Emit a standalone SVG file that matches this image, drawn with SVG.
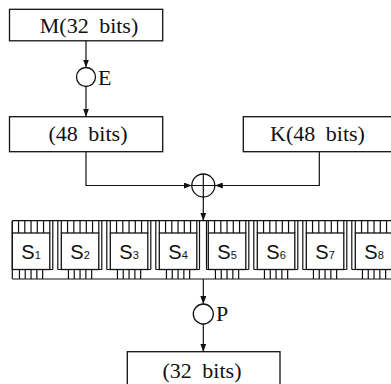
<svg xmlns="http://www.w3.org/2000/svg" width="391" height="384" viewBox="0 0 391 384">
<defs>
<style>
.box{fill:none;stroke:#111;stroke-width:1.3}
.ln{fill:none;stroke:#111;stroke-width:1.2}
.lbl{font-family:"Liberation Serif","Times New Roman",serif;font-size:22px;fill:#111;word-spacing:5px}
.sl{font-family:"Liberation Sans",Arial,sans-serif;font-size:20px;fill:#111}
.sub{font-size:11px}
</style>
<marker id="ah" markerWidth="8" markerHeight="6" refX="8" refY="3" orient="auto" markerUnits="userSpaceOnUse">
<path d="M0,0 L8,3 L0,6 z" fill="#111"/>
</marker>
</defs>
<rect width="391" height="384" fill="#fff"/>

<g id="node-M">
<rect class="box" x="9.5" y="9.3" width="153.2" height="31.5"/>
<text class="lbl" x="89" y="32.5" text-anchor="middle">M(32 bits)</text>
</g>

<g id="node-E">
<circle class="box" cx="86" cy="77" r="9.5"/>
<text class="lbl" x="98" y="85">E</text>
</g>

<g id="node-48">
<rect class="box" x="9.5" y="116.7" width="153.2" height="35"/>
<text class="lbl" x="88" y="141" text-anchor="middle">(48 bits)</text>
</g>

<g id="node-K">
<rect class="box" x="243.3" y="116.7" width="152" height="35"/>
<text class="lbl" x="317.5" y="141" text-anchor="middle">K(48 bits)</text>
</g>

<g id="node-xor">
<circle class="box" cx="203.3" cy="185.5" r="11.5"/>
<path class="ln" d="M191.8,185.5 H214.8 M203.3,174 V197"/>
</g>

<g id="node-sboxes">
<path class="ln" d="M12.3,220.7 H391 M12.3,279 H391 M12.3,220.7 V279"/>
<path class="ln" d="M12.3,269.5 H52.8 M57.8,269.5 H101.8 M106.8,269.5 H150.8 M155.8,269.5 H199.5 M206.5,269.5 H248.8 M253.8,269.5 H297.8 M302.8,269.5 H346.8 M351.8,269.5 H391"/>
<path class="ln" d="M52.8,220.7 V269.5 M57.8,220.7 V269.5 M101.8,220.7 V269.5 M106.8,220.7 V269.5 M150.8,220.7 V269.5 M155.8,220.7 V269.5 M199.5,220.7 V269.5 M206.5,220.7 V269.5 M248.8,220.7 V269.5 M253.8,220.7 V269.5 M297.8,220.7 V269.5 M302.8,220.7 V269.5 M346.8,220.7 V269.5 M351.8,220.7 V269.5"/>
<g id="s1" transform="translate(12.3,0)">
<rect class="box" x="0" y="233" width="37.5" height="36.5"/>
<path class="ln" d="M0,220.7V233M6.25,220.7V233M12.5,220.7V233M18.75,220.7V233M25,220.7V233M31.25,220.7V233M37.5,220.7V233M7.15,269.5V279M12.95,269.5V279M18.75,269.5V279M24.55,269.5V279M30.35,269.5V279"/>
<text class="sl" x="18.75" y="258.5" text-anchor="middle">S<tspan class="sub">1</tspan></text>
</g>
<g id="s2" transform="translate(61.3,0)">
<rect class="box" x="0" y="233" width="37.5" height="36.5"/>
<path class="ln" d="M0,220.7V233M6.25,220.7V233M12.5,220.7V233M18.75,220.7V233M25,220.7V233M31.25,220.7V233M37.5,220.7V233M7.15,269.5V279M12.95,269.5V279M18.75,269.5V279M24.55,269.5V279M30.35,269.5V279"/>
<text class="sl" x="18.75" y="258.5" text-anchor="middle">S<tspan class="sub">2</tspan></text>
</g>
<g id="s3" transform="translate(110.3,0)">
<rect class="box" x="0" y="233" width="37.5" height="36.5"/>
<path class="ln" d="M0,220.7V233M6.25,220.7V233M12.5,220.7V233M18.75,220.7V233M25,220.7V233M31.25,220.7V233M37.5,220.7V233M7.15,269.5V279M12.95,269.5V279M18.75,269.5V279M24.55,269.5V279M30.35,269.5V279"/>
<text class="sl" x="18.75" y="258.5" text-anchor="middle">S<tspan class="sub">3</tspan></text>
</g>
<g id="s4" transform="translate(159.3,0)">
<rect class="box" x="0" y="233" width="37.5" height="36.5"/>
<path class="ln" d="M0,220.7V233M6.25,220.7V233M12.5,220.7V233M18.75,220.7V233M25,220.7V233M31.25,220.7V233M37.5,220.7V233M7.15,269.5V279M12.95,269.5V279M18.75,269.5V279M24.55,269.5V279M30.35,269.5V279"/>
<text class="sl" x="18.75" y="258.5" text-anchor="middle">S<tspan class="sub">4</tspan></text>
</g>
<g id="s5" transform="translate(208.3,0)">
<rect class="box" x="0" y="233" width="37.5" height="36.5"/>
<path class="ln" d="M0,220.7V233M6.25,220.7V233M12.5,220.7V233M18.75,220.7V233M25,220.7V233M31.25,220.7V233M37.5,220.7V233M7.15,269.5V279M12.95,269.5V279M18.75,269.5V279M24.55,269.5V279M30.35,269.5V279"/>
<text class="sl" x="18.75" y="258.5" text-anchor="middle">S<tspan class="sub">5</tspan></text>
</g>
<g id="s6" transform="translate(257.3,0)">
<rect class="box" x="0" y="233" width="37.5" height="36.5"/>
<path class="ln" d="M0,220.7V233M6.25,220.7V233M12.5,220.7V233M18.75,220.7V233M25,220.7V233M31.25,220.7V233M37.5,220.7V233M7.15,269.5V279M12.95,269.5V279M18.75,269.5V279M24.55,269.5V279M30.35,269.5V279"/>
<text class="sl" x="18.75" y="258.5" text-anchor="middle">S<tspan class="sub">6</tspan></text>
</g>
<g id="s7" transform="translate(306.3,0)">
<rect class="box" x="0" y="233" width="37.5" height="36.5"/>
<path class="ln" d="M0,220.7V233M6.25,220.7V233M12.5,220.7V233M18.75,220.7V233M25,220.7V233M31.25,220.7V233M37.5,220.7V233M7.15,269.5V279M12.95,269.5V279M18.75,269.5V279M24.55,269.5V279M30.35,269.5V279"/>
<text class="sl" x="18.75" y="258.5" text-anchor="middle">S<tspan class="sub">7</tspan></text>
</g>
<g id="s8" transform="translate(355.3,0)">
<rect class="box" x="0" y="233" width="37.5" height="36.5"/>
<path class="ln" d="M0,220.7V233M6.25,220.7V233M12.5,220.7V233M18.75,220.7V233M25,220.7V233M31.25,220.7V233M37.5,220.7V233M7.15,269.5V279M12.95,269.5V279M18.75,269.5V279M24.55,269.5V279M30.35,269.5V279"/>
<text class="sl" x="18.75" y="258.5" text-anchor="middle">S<tspan class="sub">8</tspan></text>
</g>
</g>

<g id="node-P">
<circle class="box" cx="203.3" cy="314" r="10"/>
<text class="lbl" x="216" y="321">P</text>
</g>

<g id="node-out">
<rect class="box" x="127.3" y="351.7" width="152.7" height="35"/>
<text class="lbl" x="202" y="377.5" text-anchor="middle">(32 bits)</text>
</g>

<g id="connectors">
<path class="ln" marker-end="url(#ah)" d="M86,40.8 V67.5"/>
<path class="ln" marker-end="url(#ah)" d="M86,86.5 V116.7"/>
<path class="ln" marker-end="url(#ah)" d="M86,151.7 V185.5 H191.8"/>
<path class="ln" marker-end="url(#ah)" d="M319.3,151.7 V185.5 H214.8"/>
<path class="ln" marker-end="url(#ah)" d="M203.3,197 V220.7"/>
<path class="ln" marker-end="url(#ah)" d="M203.3,279 V304"/>
<path class="ln" marker-end="url(#ah)" d="M203.3,324 V351.7"/>
</g>
</svg>
